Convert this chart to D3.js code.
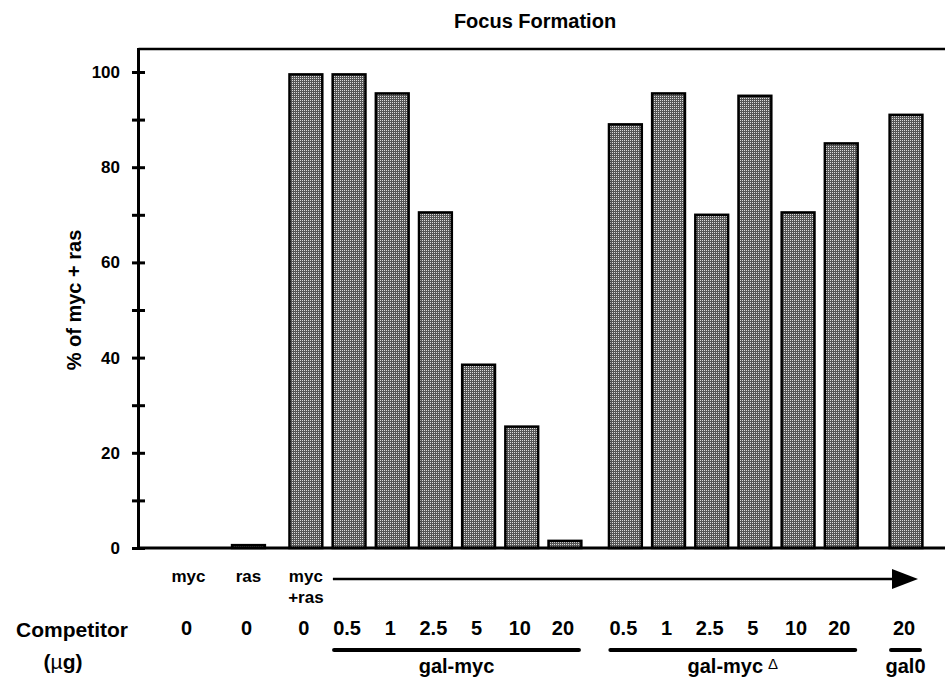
<!DOCTYPE html>
<html>
<head>
<meta charset="utf-8">
<script src="https://cdn.jsdelivr.net/npm/d3@7"></script>
<style>
  body { margin: 0; background: #fff; }
  svg { display: block; font-family: "Liberation Sans", Arial, Helvetica, sans-serif; font-weight: bold; }
</style>
</head>
<body>
<div id="chart"></div>
<script>
// one entry per bar, left to right
const conditions = [
  "myc", "ras", "myc+ras",
  "gal-myc", "gal-myc", "gal-myc", "gal-myc", "gal-myc", "gal-myc",
  "gal-mycΔ", "gal-mycΔ", "gal-mycΔ", "gal-mycΔ", "gal-mycΔ", "gal-mycΔ",
  "gal0",
];
const competitorUg = ["0", "0", "0", "0.5", "1", "2.5", "5", "10", "20", "0.5", "1", "2.5", "5", "10", "20", "20"];
const pctOfMycRas = [0, 0.6, 99.5, 99.5, 95.5, 70.5, 38.5, 25.5, 1.5, 89, 95.5, 70, 95, 70.5, 85, 91];
// which cluster a bar sits in (sets the wider gaps)
const cluster = [0, 1, 2, 2, 2, 2, 2, 2, 2, 3, 3, 3, 3, 3, 3, 4];

const topLabels = [["myc"], ["ras"], ["myc", "+ras"]];
const competitorNames = ["gal-myc", "gal-mycΔ", "gal0"];
const yTicks = [0, 10, 20, 30, 40, 50, 60, 70, 80, 90, 100];

const width = 945;
const height = 680;
const plotLeft = 138.5;
const plotTop = 49;
const plotBottom = 548;
const clusterGaps = [1.39, 1.33, 1.4, 1.5];
const barFrac = 0.76;

// unit position of every bar
let u = 0;
const units = cluster.map((c, i) => {
  if (i > 0) u += c !== cluster[i - 1] ? clusterGaps[cluster[i - 1]] : 1;
  return u;
});

const x = d3.scaleLinear().domain([-1.157, 17.523]).range([plotLeft, width]);
const y = d3.scaleLinear().domain([0, 100]).range([plotBottom, 72]);
const step = x(1) - x(0);
const barW = step * barFrac;

const data = conditions.map((c, i) => ({
  condition: c,
  competitor: competitorUg[i],
  value: pctOfMycRas[i],
  u: units[i],
}));

const svg = d3.select("#chart").append("svg")
  .attr("width", width)
  .attr("height", height)
  .attr("viewBox", [0, 0, width, height]);

// halftone screen: dark grey with a grid of light dots
const pat = svg.append("defs").append("pattern")
  .attr("id", "halftone")
  .attr("width", 2).attr("height", 2)
  .attr("patternUnits", "userSpaceOnUse");
pat.append("rect").attr("width", 2).attr("height", 2).attr("fill", "#555");
pat.append("rect").attr("width", 1).attr("height", 1).attr("fill", "#dcdcdc");

// title
svg.append("text")
  .attr("x", 535).attr("y", 28)
  .attr("text-anchor", "middle")
  .attr("font-size", 20)
  .text("Focus Formation");

// bars
svg.append("g")
  .selectAll("rect")
  .data(data.filter((d) => d.value > 0))
  .join("rect")
  .attr("x", (d) => x(d.u) - barW / 2)
  .attr("y", (d) => y(d.value))
  .attr("width", barW)
  .attr("height", (d) => y(0) - y(d.value))
  .attr("fill", "url(#halftone)")
  .attr("stroke", "#000")
  .attr("stroke-width", 2.5);

// frame: top line and baseline
svg.append("line")
  .attr("x1", plotLeft).attr("x2", width)
  .attr("y1", plotTop).attr("y2", plotTop)
  .attr("stroke", "#000").attr("stroke-width", 2.5);
svg.append("line")
  .attr("x1", plotLeft).attr("x2", width)
  .attr("y1", plotBottom).attr("y2", plotBottom)
  .attr("stroke", "#000").attr("stroke-width", 3);

// y axis with crossing ticks
const yAxis = svg.append("g")
  .attr("transform", `translate(${plotLeft},0)`)
  .call(
    d3.axisLeft(y)
      .tickValues(yTicks)
      .tickFormat((d) => (d % 20 === 0 ? d : ""))
      .tickSize(6.5)
      .tickPadding(12)
  );
yAxis.select(".domain").remove();
yAxis.append("line")
  .attr("y1", plotTop - 1).attr("y2", plotBottom)
  .attr("stroke", "#000").attr("stroke-width", 3);
yAxis.selectAll(".tick line")
  .attr("x1", -6.5).attr("x2", 6.5)
  .attr("stroke-width", 3);
yAxis.selectAll(".tick text")
  .attr("font-size", 17)
  .attr("font-family", "Liberation Sans, Arial, sans-serif")
  .attr("font-weight", "bold")
  .attr("fill", "#000");

svg.append("text")
  .attr("transform", `translate(81,${(y(0) + y(100)) / 2 - 10}) rotate(-90)`)
  .attr("text-anchor", "middle")
  .attr("font-size", 20)
  .text("% of myc + ras");

// labels under the first bars
const topRow = svg.append("g").attr("font-size", 17).attr("text-anchor", "middle");
topLabels.forEach((lines, i) => {
  lines.forEach((t, j) => {
    topRow.append("text")
      .attr("x", x(data[i].u))
      .attr("y", 582 + j * 21)
      .text(t);
  });
});

// arrow
const arrowY = 579;
const arrowEnd = x(data[data.length - 1].u) + 12;
svg.append("line")
  .attr("x1", x(data[2].u) + 27).attr("x2", arrowEnd - 20)
  .attr("y1", arrowY).attr("y2", arrowY)
  .attr("stroke", "#000").attr("stroke-width", 2.5);
svg.append("path")
  .attr("d", `M${arrowEnd - 26},${arrowY - 10}L${arrowEnd},${arrowY}L${arrowEnd - 26},${arrowY + 10}Z`)
  .attr("fill", "#000");

// competitor amounts
svg.append("g")
  .attr("font-size", 20)
  .attr("text-anchor", "middle")
  .selectAll("text")
  .data(data)
  .join("text")
  .attr("x", (d) => x(d.u) - 2)
  .attr("y", 635)
  .text((d) => d.competitor);

svg.append("text")
  .attr("x", 72).attr("y", 637)
  .attr("text-anchor", "middle")
  .attr("font-size", 21)
  .text("Competitor");
const ug = svg.append("text")
  .attr("x", 63).attr("y", 669)
  .attr("text-anchor", "middle")
  .attr("font-size", 21);
ug.append("tspan").text("(");
ug.append("tspan").attr("font-weight", "normal").text("µ");
ug.append("tspan").text("g)");

// competitor constructs with underlines
competitorNames.forEach((name) => {
  const members = data.filter((d, i) => d.condition === name && i > 2);
  const x0 = x(members[0].u) - 15;
  const x1 = x(members[members.length - 1].u) + 14;
  svg.append("line")
    .attr("x1", x0).attr("x2", x1)
    .attr("y1", 650).attr("y2", 650)
    .attr("stroke", "#000").attr("stroke-width", 4)
    .attr("stroke-linecap", "round");
  const t = svg.append("text")
    .attr("x", (x0 + x1) / 2)
    .attr("y", 673)
    .attr("text-anchor", "middle")
    .attr("font-size", 20);
  if (name.endsWith("Δ")) {
    t.append("tspan").text(name.slice(0, -1));
    t.append("tspan")
      .attr("font-weight", "normal")
      .attr("font-size", 15)
      .attr("dx", 5).attr("dy", -4)
      .text("Δ");
  } else {
    t.text(name);
  }
});
</script>
</body>
</html>
